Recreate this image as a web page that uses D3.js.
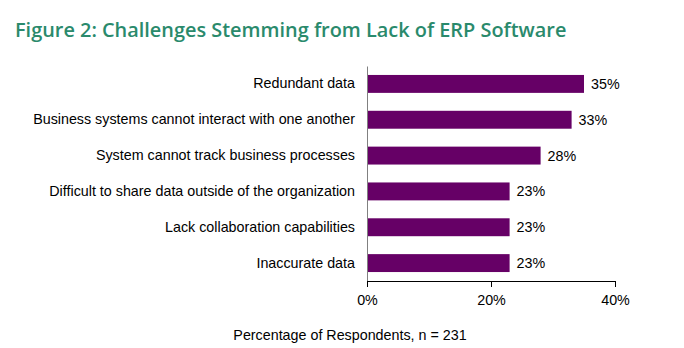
<!DOCTYPE html>
<html>
<head>
<meta charset="utf-8">
<script src="https://cdn.jsdelivr.net/npm/d3@7"></script>
<style>
  body { margin: 0; background: #fff; }
  svg text { font-family: "Liberation Sans", Arial, sans-serif; }
</style>
</head>
<body>
<svg id="chart" width="684" height="348"></svg>
<script>
// chart data
const categories = [
    'Redundant data',
    'Business systems cannot interact with one another',
    'System cannot track business processes',
    'Difficult to share data outside of the organization',
    'Lack collaboration capabilities',
    'Inaccurate data'
];
const values = [35, 33, 28, 23, 23, 23];
const tickValues = [0, 20, 40];

const barColor = '#660066';
const titleColor = '#2a8a6c';
const fs = '14.3px';

const svg = d3.select('#chart');

svg.append('text')
    .attr('x', 15)
    .attr('y', 37)
    .attr('fill', titleColor)
    .style('font-family', '"Open Sans", "Noto Sans", sans-serif')
    .style('font-size', '19.9px')
    .style('font-weight', '600')
    .text('Figure 2: Challenges Stemming from Lack of ERP Software');

const x = d3.scaleLinear().domain([0, 40]).range([367, 615]);
const y = d3.scaleBand().domain(categories).range([66, 281])
    .paddingInner(0.5).paddingOuter(0.25);

const data = categories.map((c, i) => ({ cat: c, val: values[i] }));

svg.selectAll('.bar').data(data)
    .enter()
    .append('rect')
    .attr('class', 'bar')
    .attr('x', x(0))
    .attr('y', d => y(d.cat))
    .attr('width', d => x(d.val) - x(0))
    .attr('height', y.bandwidth())
    .attr('fill', barColor);

svg.selectAll('.valLabel').data(data)
    .enter()
    .append('text')
    .attr('class', 'valLabel')
    .attr('x', d => x(d.val) + 7)
    .attr('y', d => y(d.cat) + y.bandwidth() / 2)
    .attr('dy', '0.35em')
    .attr('fill', '#000')
    .style('font-size', fs)
    .text(d => d.val + '%');

// category axis
const yAxis = svg.append('g')
    .attr('transform', `translate(${x(0)},0)`)
    .call(d3.axisLeft(y).tickSize(0).tickPadding(12));
yAxis.select('.domain').attr('stroke', '#808080');
yAxis.selectAll('text')
    .style('font-size', fs)
    .attr('fill', '#000');

// value axis
const xAxis = svg.append('g')
    .attr('transform', 'translate(0,281)')
    .call(d3.axisBottom(x).tickValues(tickValues).tickFormat(d => d + '%').tickSize(6).tickSizeOuter(0).tickPadding(8));
xAxis.select('.domain').attr('stroke', '#000');
xAxis.selectAll('.tick line').attr('stroke', '#000');
xAxis.selectAll('text')
    .style('font-size', fs)
    .attr('fill', '#000');

svg.append('text')
    .attr('x', 350)
    .attr('y', 340)
    .attr('text-anchor', 'middle')
    .attr('fill', '#000')
    .style('font-size', fs)
    .text('Percentage of Respondents, n = 231');
</script>
</body>
</html>
